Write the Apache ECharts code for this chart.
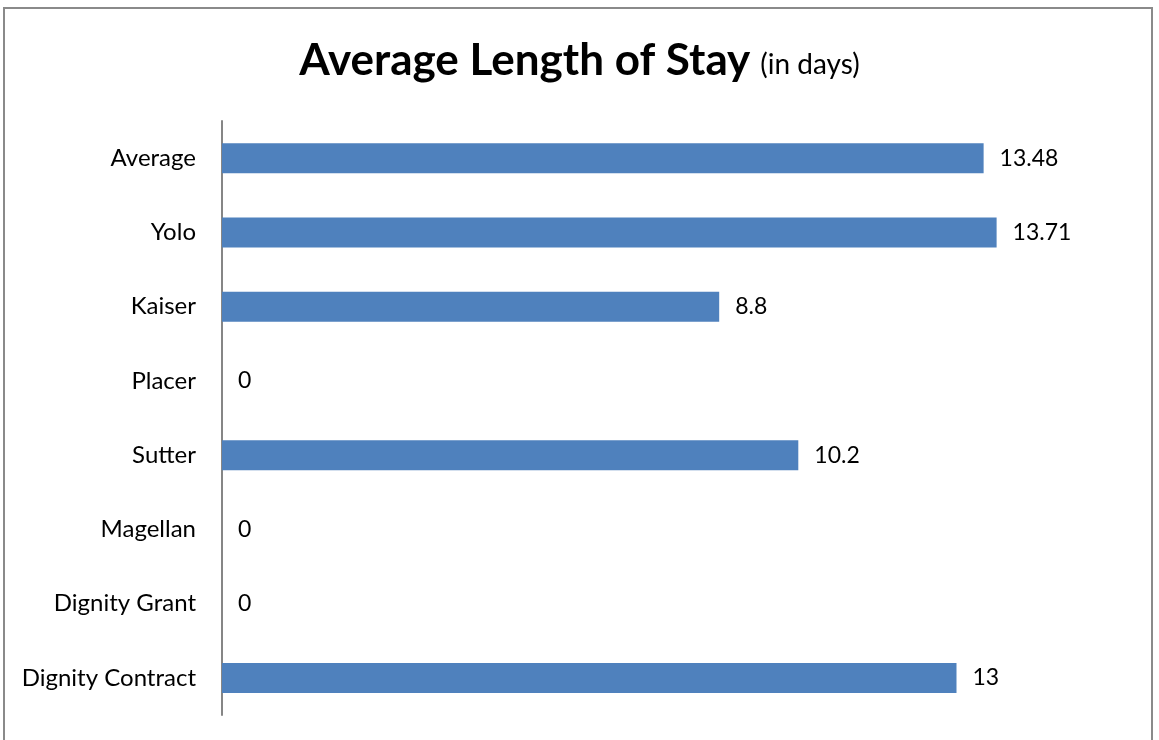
<!DOCTYPE html>
<html>
<head>
<meta charset="utf-8">
<script src="https://cdn.jsdelivr.net/npm/echarts@6/dist/echarts.min.js"></script>
<style>
  html, body { margin: 0; padding: 0; background: #fff; }
  #main { width: 1159px; height: 740px; }
</style>
</head>
<body>
<div id="main"></div>
<script>
// data, top to bottom
let categories = ['Average', 'Yolo', 'Kaiser', 'Placer', 'Sutter', 'Magellan', 'Dignity Grant', 'Dignity Contract'];
let stayDays = [13.48, 13.71, 8.8, 0, 10.2, 0, 0, 13];

let font = 'Lato';
let myChart = echarts.init(document.getElementById('main'));

let option = {
    backgroundColor: '#fff',
    animation: false,
    title: {
        left: 'center',
        top: 34,
        text: '{a|Average Length of Stay}{b|(in days)}',
        textStyle: {
            rich: {
                a: { fontFamily: font, fontWeight: 'bold', fontSize: 44, color: '#000' },
                b: { fontFamily: font, fontWeight: 'normal', fontSize: 28, color: '#000', padding: [8, 0, 0, 10] }
            }
        }
    },
    graphic: [{
        type: 'rect',
        shape: { x: 4, y: 8, width: 1148, height: 800 },
        style: { fill: 'none', stroke: '#8a8a8a', lineWidth: 2 },
        silent: true
    }],
    grid: { left: 222, top: 121, width: 904, height: 594 },
    xAxis: {
        type: 'value',
        min: 0,
        max: 16,
        show: false
    },
    yAxis: {
        type: 'category',
        data: categories,
        inverse: true,
        axisLine: { show: true, lineStyle: { color: '#868686', width: 2 } },
        axisTick: { show: false },
        axisLabel: { fontFamily: font, fontSize: 24, color: '#000', margin: 26 }
    },
    series: [{
        type: 'bar',
        data: stayDays,
        barWidth: 30,
        itemStyle: { color: '#4F81BD' },
        label: {
            show: true,
            position: 'right',
            distance: 16,
            fontFamily: font,
            fontSize: 23,
            color: '#000'
        }
    }]
};

myChart.setOption(option, true);
</script>
</body>
</html>
